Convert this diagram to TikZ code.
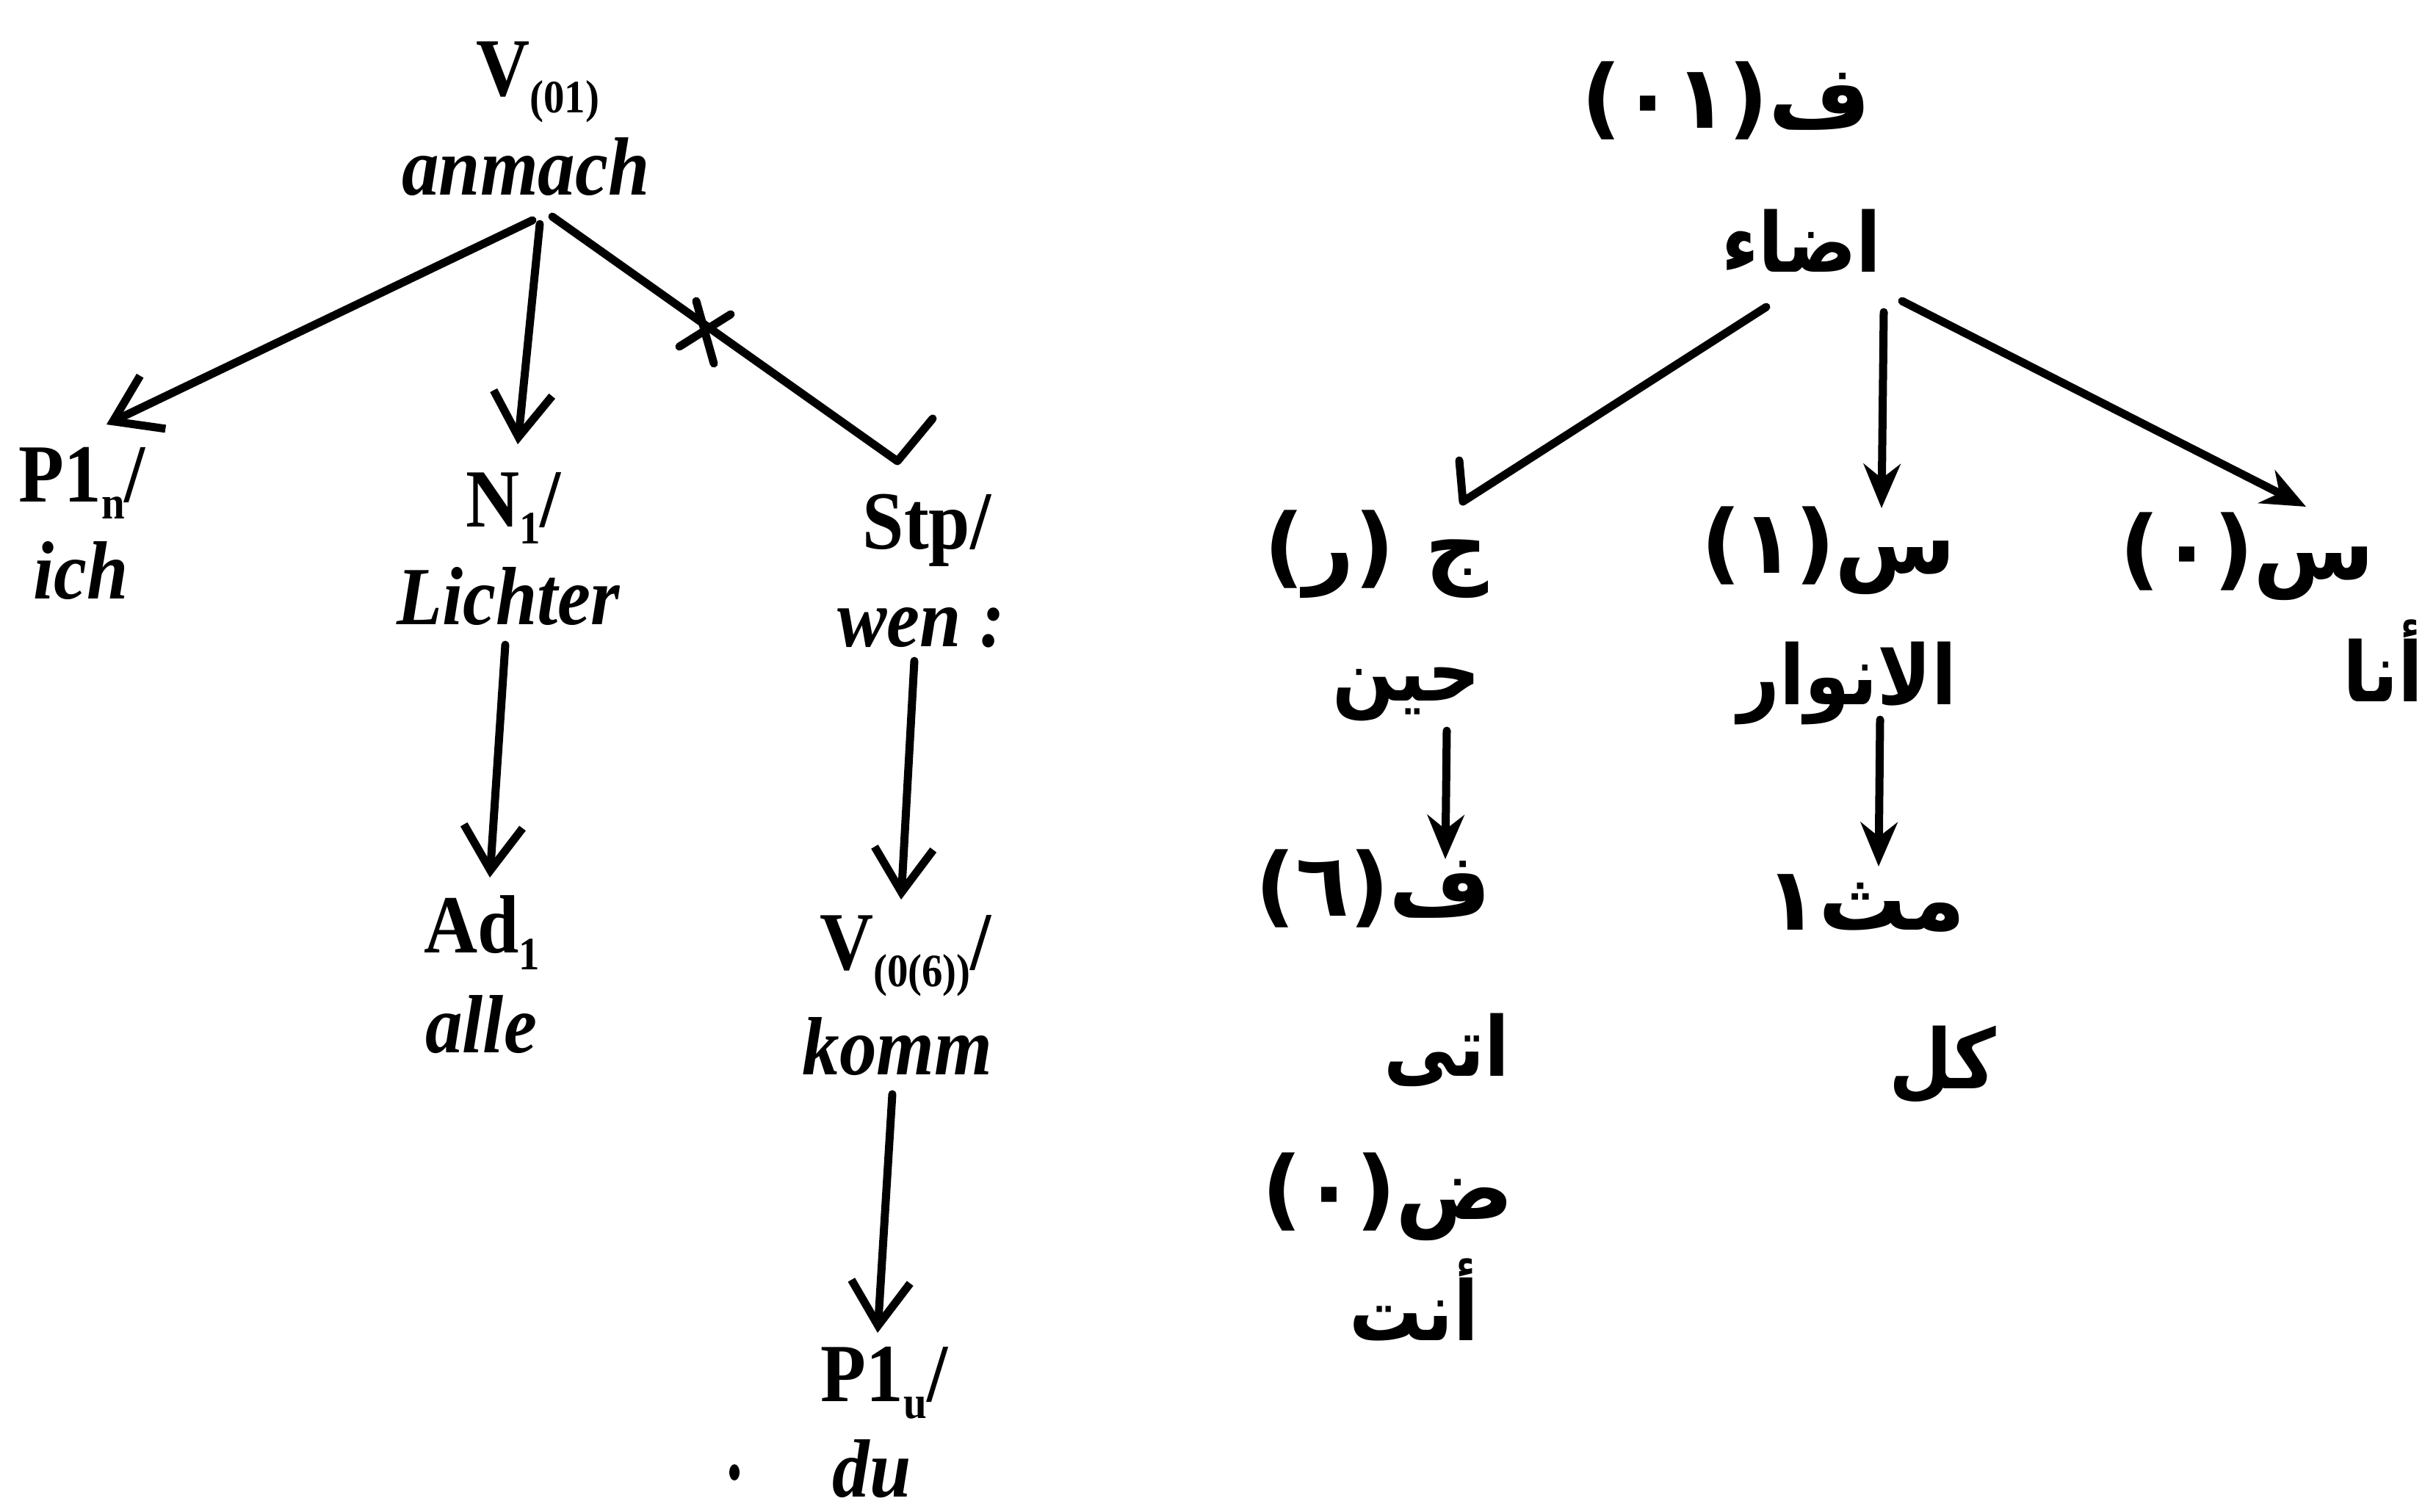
\documentclass[tikz,border=0pt]{standalone}
\usepackage{fontspec}
\newfontfamily\defont{Liberation Serif}[FakeStretch=0.9]
\newfontfamily\arabicfont[Script=Arabic]{DejaVu Sans}
\newfontfamily\arabicnarrow[Script=Arabic,FakeStretch=0.88]{DejaVu Sans}
\TeXXeTstate=1
\usetikzlibrary{arrows.meta}
\newcommand{\sbs}[1]{\raisebox{-0.45ex}{\fontsize{18}{20}\selectfont #1}}
\tikzset{
 de/.style={font=\defont\bfseries\fontsize{32}{36}\selectfont, inner sep=0pt},
 dei/.style={font=\defont\bfseries\itshape\fontsize{32}{36}\selectfont, inner sep=0pt},
 ar/.style={font=\arabicfont\bfseries\fontsize{34}{40}\selectfont, inner sep=0pt},
 arw/.style={font=\arabicnarrow\bfseries\fontsize{32}{38}\selectfont, inner sep=0pt},
 edgeln/.style={line width=1.1mm, line cap=round, line join=round},
 barb/.style={edgeln, -{Straight Barb[length=6mm,width=8mm]}},
 sharp/.style={edgeln, -{Stealth[length=6mm,width=5mm]}},
}
\begin{document}
\begin{tikzpicture}
\useasboundingbox (0,0) rectangle (33.17,-20.58);
% ---------------- German tree ----------------
\node[de,anchor=base] (v01) at (7.32,-1.30) {V\sbs{(01)}};
\node[dei,anchor=base] (anm) at (7.16,-2.65) {anmach};
\node[de,anchor=base] (p1a) at (1.12,-6.83) {P1\sbs{n}/};
\node[dei,anchor=base] (ich) at (1.10,-8.15) {ich};
\node[de,anchor=base] (n1) at (6.99,-7.17) {N\sbs{1}/};
\node[dei,anchor=base] (licht) at (6.92,-8.50) {Lichter};
\node[de,anchor=base] (stp) at (12.62,-7.47) {Stp/};
\node[dei,anchor=base] (wen) at (12.54,-8.80) {wen :};
\node[de,anchor=base] (ad1) at (6.56,-12.97) {Ad\sbs{1}};
\node[dei,anchor=base] (alle) at (6.55,-14.33) {alle};
\node[de,anchor=base] (v06) at (12.33,-13.20) {V\sbs{(0(6))}/};
\node[dei,anchor=base] (komm) at (12.22,-14.63) {komm};
\node[de,anchor=base] (p1b) at (12.04,-19.08) {P1\sbs{u}/};
\node[dei,anchor=base] (du) at (11.87,-20.38) {du};

\coordinate (lA) at (7.25,-3.00);
\coordinate (lAe) at (1.45,-5.78);
\coordinate (mA) at (7.35,-3.05);
\coordinate (mAe) at (7.05,-6.05);
\coordinate (rA) at (7.52,-2.95);
\coordinate (rAc) at (12.22,-6.28);
\coordinate (rAe) at (12.70,-5.70);
\coordinate (la1) at (6.88,-8.78);
\coordinate (la2) at (6.67,-11.95);
\coordinate (wa1) at (12.45,-9.00);
\coordinate (wa2) at (12.27,-12.25);
\coordinate (ka1) at (12.15,-14.90);
\coordinate (ka2) at (11.95,-18.15);

\draw[barb] (lA) -- (lAe);
\draw[barb] (mA) -- (mAe);
\draw[edgeln] (rA) -- (rAc) -- (rAe);
\draw[edgeln] (9.48,-4.10) -- (9.72,-4.95);
\draw[edgeln] (9.25,-4.72) -- (9.95,-4.28);
\draw[barb] (la1) -- (la2);
\draw[barb] (wa1) -- (wa2);
\draw[barb] (ka1) -- (ka2);
\fill (10.0,-20.05) ellipse [x radius=0.07, y radius=0.11];

% ---------------- Arabic tree ----------------
\node[ar] (rf) at (23.50,-1.37) {\beginR ف(٠١)\endR};
\node[arw] (rad) at (24.53,-3.28) {\beginR اضاء\endR};
\node[ar] (rj) at (18.74,-7.55) {\beginR ج (ر)\endR};
\node[ar] (rs1) at (24.90,-7.50) {\beginR س(١)\endR};
\node[ar] (rs0) at (30.60,-7.58) {\beginR س(٠)\endR};
\node[arw] (rhin) at (19.15,-9.45) {\beginR حين\endR};
\node[arw] (ranw) at (25.15,-9.30) {\beginR الانوار\endR};
\node[arw] (rana) at (32.45,-9.00) {\beginR أنا\endR};
\node[ar] (rf6) at (18.70,-12.10) {\beginR ف(٦)\endR};
\node[ar] (rmt) at (25.40,-12.30) {\beginR مث١\endR};
\node[arw] (rata) at (19.70,-14.30) {\beginR اتى\endR};
\node[arw] (rkl) at (26.45,-14.50) {\beginR كل\endR};
\node[ar] (rd0) at (18.90,-16.30) {\beginR ض(٠)\endR};
\node[arw] (rant) at (19.25,-17.70) {\beginR أنت\endR};

\coordinate (aL) at (24.05,-4.18);
\coordinate (aLc) at (19.92,-6.83);
\coordinate (aLe) at (19.87,-6.27);
\coordinate (aM) at (25.65,-4.25);
\coordinate (aMe) at (25.62,-6.92);
\coordinate (aR) at (25.90,-4.10);
\coordinate (aRe) at (31.40,-6.90);
\coordinate (ah1) at (19.70,-9.95);
\coordinate (ah2) at (19.68,-11.70);
\coordinate (an1) at (25.60,-9.80);
\coordinate (an2) at (25.58,-11.80);

\draw[edgeln] (aL) -- (aLc) -- (aLe);
\draw[sharp] (aM) -- (aMe);
\draw[sharp] (aR) -- (aRe);
\draw[sharp] (ah1) -- (ah2);
\draw[sharp] (an1) -- (an2);
\end{tikzpicture}
\end{document}
